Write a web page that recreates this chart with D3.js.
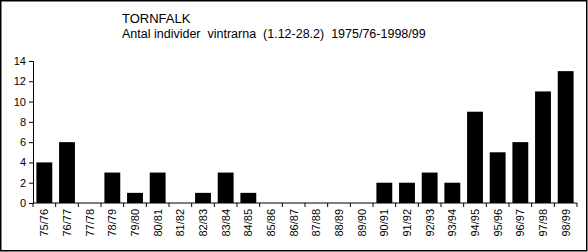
<html>
<head>
<script src="https://d3js.org/d3.v7.min.js"></script>
<style>
  body { margin: 0; background: #fff; }
  text { font-family: Arial, "Liberation Sans", sans-serif; fill: #000; }
</style>
</head>
<body>
<svg width="588" height="252"></svg>
<script>
  const seasons = ["75/76", "76/77", "77/78", "78/79", "79/80", "80/81", "81/82", "82/83",
                   "83/84", "84/85", "85/86", "86/87", "87/88", "88/89", "89/90", "90/91",
                   "91/92", "92/93", "93/94", "94/95", "95/96", "96/97", "97/98", "98/99"];
  const counts = [4, 6, 0, 3, 1, 3, 0, 1, 3, 1, 0, 0, 0, 0, 0, 2, 2, 3, 2, 9, 5, 6, 11, 13];
  const yTicks = [0, 2, 4, 6, 8, 10, 12, 14];
  const title = "TORNFALK";
  const subtitle = "Antal individer  vintrarna  (1.12-28.2)  1975/76-1998/99";

  const svg = d3.select("svg");

  svg.append("rect")
    .attr("x", 0.75).attr("y", 0.75)
    .attr("width", 586).attr("height", 250)
    .attr("fill", "none").attr("stroke", "black").attr("stroke-width", 1.5);

  svg.append("text").attr("x", 122).attr("y", 23)
    .style("font-size", "13px").text(title);
  svg.append("text").attr("x", 122).attr("y", 38)
    .style("font-size", "12.5px").style("white-space", "pre")
    .attr("xml:space", "preserve").text(subtitle);

  const x = d3.scaleBand().domain(seasons).range([33, 577]).paddingInner(0.3).paddingOuter(0.15);
  const y = d3.scaleLinear().domain([0, 14]).range([203, 61]);

  svg.append("g")
    .selectAll("rect")
    .data(counts)
    .enter()
    .append("rect")
    .attr("x", (d, i) => x(seasons[i]))
    .attr("width", x.bandwidth())
    .attr("y", d => y(d))
    .attr("height", d => y(0) - y(d))
    .attr("fill", "black");

  const yAxis = svg.append("g").attr("transform", "translate(33,0)")
    .call(d3.axisLeft(y).tickValues(yTicks).tickSize(4).tickPadding(3));
  yAxis.selectAll("text").style("font-size", "11px").style("font-family", "Arial, 'Liberation Sans', sans-serif");

  // category ticks sit at band boundaries, as in the original
  const xAxis = svg.append("g").attr("transform", "translate(0,203)");
  xAxis.append("line").attr("x1", 33).attr("x2", 577).attr("stroke", "black");
  const step = x.step();
  xAxis.selectAll("line.tk")
    .data(d3.range(seasons.length + 1))
    .enter().append("line")
    .attr("class", "tk")
    .attr("x1", i => 33 + i * (544 / seasons.length))
    .attr("x2", i => 33 + i * (544 / seasons.length))
    .attr("y1", 0).attr("y2", 4)
    .attr("stroke", "black");
  xAxis.selectAll("text")
    .data(seasons)
    .enter().append("text")
    .attr("transform", d => `translate(${x(d) + x.bandwidth() / 2 + 4},6) rotate(-90)`)
    .attr("text-anchor", "end")
    .style("font-size", "11px")
    .text(d => d);

  yAxis.select(".domain").attr("stroke", "black");
</script>
</body>
</html>
